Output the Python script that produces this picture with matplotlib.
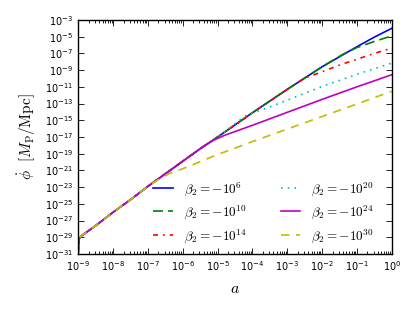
import numpy as np
import matplotlib
matplotlib.use('Agg')
import matplotlib.pyplot as plt
from matplotlib.ticker import LogLocator, NullLocator

plt.rcParams['mathtext.fontset'] = 'cm'
plt.rcParams['axes.unicode_minus'] = False
plt.rcParams['xtick.direction'] = 'in'
plt.rcParams['ytick.direction'] = 'in'
plt.rcParams['xtick.top'] = True
plt.rcParams['ytick.right'] = True

# log10(a) and log10(phi_dot)
common_loga = [-9.0, -8.98, -8.9, -8.7, -8.5, -8.0, -7.5, -7.0, -6.5, -6.0, -5.5, -5.0]
common_logp = [-30.8, -29.2, -28.8, -28.2, -27.6, -26.0, -24.5, -22.9, -21.4, -19.9, -18.4, -17.0]

b6_loga = [-4.0, -3.0, -2.0, -1.0, -0.5, 0.0]
b6_logp = [-14.1, -11.3, -8.6, -6.2, -5.05, -4.0]

b10_loga = [-4.0, -3.0, -2.0, -1.4, -1.0, -0.5, 0.0]
b10_logp = [-14.1, -11.3, -8.6, -7.1, -6.3, -5.57, -4.9]

b14_loga = [-4.0, -3.0, -2.5, -2.0, -1.48, -1.0, -0.5, 0.0]
b14_logp = [-14.1, -11.3, -9.95, -9.2, -8.36, -7.7, -7.0, -6.37]

b20_loga = [-4.2, -3.5, -3.0, -2.0, -1.0, 0.0]
b20_logp = [-14.45, -13.4, -12.6, -10.95, -9.5, -8.16]

b24_loga = [-5.3, -5.1, -4.8, -4.0, -3.0, -2.0, -1.0, 0.0]
b24_logp = [-17.85, -17.35, -16.8, -15.6, -14.05, -12.5, -11.0, -9.55]

b30_loga = [-6.7, -6.4, -6.0, -5.0, -4.0, -3.0, -2.0, -1.0, 0.0]
b30_logp = [-22.1, -21.4, -20.8, -19.1, -17.55, -16.05, -14.55, -13.05, -11.53]

labels = [r'$\beta_2=-10^{6}$', r'$\beta_2=-10^{10}$', r'$\beta_2=-10^{14}$',
          r'$\beta_2=-10^{20}$', r'$\beta_2=-10^{24}$', r'$\beta_2=-10^{30}$']


def curve(la, lp):
    # common early part up to the branch point
    x = [v for v in common_loga if v < la[0]] + la
    y = [p for v, p in zip(common_loga, common_logp) if v < la[0]] + lp
    return 10.0 ** np.array(x), 10.0 ** np.array(y)


fig = plt.figure(figsize=(4.15, 3.11), dpi=100)
ax = fig.add_axes([0.1887, 0.1833, 0.7552, 0.7524])

lw = 1.2
a, p = curve(b6_loga, b6_logp)
ax.plot(a, p, color='b', lw=lw, label=labels[0])
a, p = curve(b10_loga, b10_logp)
ax.plot(a, p, color='g', lw=lw, dashes=(6, 3), label=labels[1])
a, p = curve(b14_loga, b14_logp)
ax.plot(a, p, color='r', lw=lw, dashes=(3, 3, 1, 3), label=labels[2])
a, p = curve(b20_loga, b20_logp)
ax.plot(a, p, color='c', lw=lw, dashes=(1, 3), label=labels[3])
a, p = curve(b24_loga, b24_logp)
ax.plot(a, p, color='m', lw=lw, label=labels[4])
a, p = curve(b30_loga, b30_logp)
ax.plot(a, p, color='y', lw=lw, dashes=(5, 4), label=labels[5])

ax.set_xscale('log')
ax.set_yscale('log')
ax.set_xlim(1e-9, 1)
ax.set_ylim(1e-31, 1e-3)
ax.set_yticks([10.0 ** e for e in range(-31, -2, 2)])
ax.yaxis.set_minor_locator(NullLocator())
ax.xaxis.set_major_locator(LogLocator(base=10, numticks=20))
ax.xaxis.set_minor_locator(LogLocator(base=10, subs=np.arange(2, 10), numticks=20))
ax.tick_params(which='major', length=4, width=0.6, labelsize=7)
ax.tick_params(which='minor', length=2, width=0.6)
for s in ax.spines.values():
    s.set_linewidth(1.0)

ax.set_xlabel(r'$a$', fontsize=11.5, labelpad=6)
ax.set_ylabel(r'$\dot{\phi}\ \ [M_{\rm P}/{\rm Mpc}]$', fontsize=11, labelpad=5)

ax.legend(ncol=2, frameon=False, fontsize=9.5, loc='lower left',
          bbox_to_anchor=(0.201, -0.012), handlelength=1.5, handletextpad=0.8,
          columnspacing=2.6, labelspacing=0.45)

fig.savefig('out.png', dpi=100)
